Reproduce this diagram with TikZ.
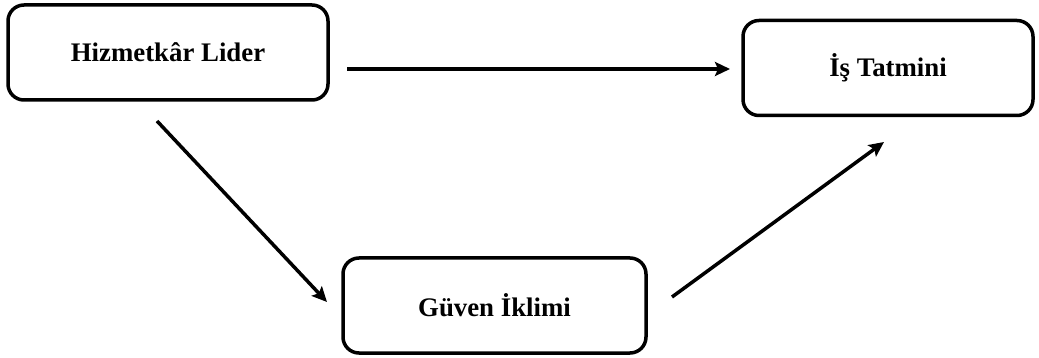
\documentclass[tikz,border=0pt]{standalone}
\usepackage{fontspec}
\setmainfont{Liberation Serif}
\usetikzlibrary{arrows.meta}
\begin{document}
\begin{tikzpicture}[x=1pt,y=-1pt,
  box/.style={draw, line width=3.5pt, rounded corners=16pt, minimum width=#1, minimum height=95pt, inner sep=0pt,
    font=\fontsize{26.8}{30}\selectfont\bfseries},
  link/.style={line width=3.5pt, -{Stealth[length=15pt,width=14pt,inset=3pt]}}]
\useasboundingbox (0,0) rectangle (1039,358);
\node[box=320pt] (hl) at (168,52.5) {Hizmetkâr Lider};
\node[box=290pt] (it) at (888,68) {İş Tatmini};
\node[box=303pt] (gi) at (494.5,305.5) {Güven İklimi};
\coordinate (a1s) at (347,69);
\coordinate (a1e) at (730,69);
\coordinate (a2s) at (157,121);
\coordinate (a2e) at (327,302);
\coordinate (a3s) at (672,297);
\coordinate (a3e) at (884,142);
\draw[link] (a1s) -- (a1e);
\draw[link] (a2s) -- (a2e);
\draw[link] (a3s) -- (a3e);
\end{tikzpicture}
\end{document}
